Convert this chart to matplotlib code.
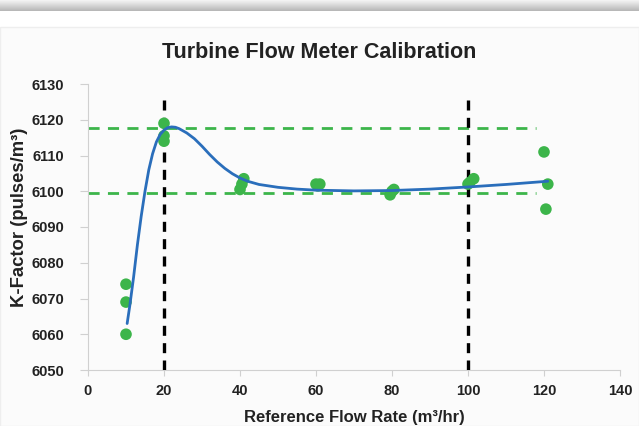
import numpy as np
import matplotlib.pyplot as plt
from matplotlib.patches import Rectangle

plt.rcParams['font.family'] = ['Liberation Sans', 'DejaVu Sans']
plt.rcParams['font.weight'] = 'bold'

# calibration points
flow = [10, 10, 10, 20, 20, 20, 40, 40.5, 41, 60, 60.5, 61, 79.5, 80, 80.5, 100, 100.5, 101.5, 120, 121, 120.5]
kfac = [6074, 6069, 6060, 6119, 6115.5, 6114, 6100.5, 6102, 6103.5, 6102, 6101.5, 6102, 6099, 6100, 6100.5, 6102, 6102.5, 6103.5, 6111, 6102, 6095]

# fitted curve
fit_x = [10.3, 11, 12, 13, 14, 15, 16, 17, 18, 19, 20, 21, 22, 23, 24, 26, 28, 30, 32, 34, 36, 38, 40,
         42, 45, 50, 55, 60, 70, 80, 90, 100, 110, 121]
fit_y = [6063, 6068, 6076, 6085, 6093, 6100, 6106, 6110.5, 6113.8, 6115.9, 6117.1, 6117.8, 6118, 6117.9, 6117.5,
         6116.3, 6114.7, 6112.6, 6110.3, 6108.2, 6106.4, 6104.9, 6103.7,
         6102.8, 6101.9, 6101.1, 6100.6, 6100.3, 6100.1, 6100.2, 6100.6, 6101.2, 6101.9, 6102.8]

limit_lines = [6117.8, 6099.5]
range_marks = [20, 100]

fig = plt.figure(figsize=(6.39, 4.26), dpi=100)
fig.patch.set_facecolor('white')

# grey band across the top and light panel behind the chart
band = fig.add_axes([0, 1 - 11 / 426, 1, 11 / 426])
band.imshow(np.linspace(0.95, 0.72, 12).reshape(-1, 1), cmap='gray', vmin=0, vmax=1, aspect='auto')
band.axis('off')
fig.patches.append(Rectangle((0, 0), 1, 1 - 27 / 426, transform=fig.transFigure,
                             facecolor='#fbfbfb', edgecolor='#eeeeee', lw=1, zorder=-1))

ax = fig.add_axes([88 / 639, 56 / 426, 532 / 639, 286 / 426])
ax.set_facecolor('none')

for y in limit_lines:
    ax.plot([0, 118], [y, y], color='#3cb54a', lw=2, dashes=(4, 3), zorder=2)
for x in range_marks:
    ax.plot([x, x], [6050, 6127], color='black', lw=2.4, dashes=(3, 2.2), zorder=3)

ax.scatter(flow, kfac, s=70, color='#3cb54a', edgecolors='none', zorder=4)
ax.plot(fit_x, fit_y, color='#2a6ebb', lw=2, zorder=5, solid_capstyle='round')

ax.set_xlim(0, 140)
ax.set_ylim(6050, 6130)
ax.set_xticks(range(0, 141, 20))
ax.set_yticks(range(6050, 6131, 10))
for s in ['top', 'right']:
    ax.spines[s].set_visible(False)
for s in ['left', 'bottom']:
    ax.spines[s].set_color('#d0d0d0')
ax.tick_params(colors='#d0d0d0', labelcolor='#222222', labelsize=10.5)
ax.tick_params(axis='y', length=6, pad=11)
ax.tick_params(axis='x', length=4, pad=6)

fig.text(0.5, 1 - 58 / 426, 'Turbine Flow Meter Calibration', ha='center', va='baseline',
         fontsize=15.5, fontweight='bold', color='#222222')
ax.set_xlabel('Reference Flow Rate (m³/hr)', fontsize=12, fontweight='bold', color='#222222')
ax.set_ylabel('K-Factor (pulses/m³)', fontsize=13.3, fontweight='bold', color='#222222')
ax.xaxis.set_label_coords(0.5, -0.14)
ax.yaxis.set_label_coords(-0.113, 0.535)

fig.savefig('out.png', dpi=100)
